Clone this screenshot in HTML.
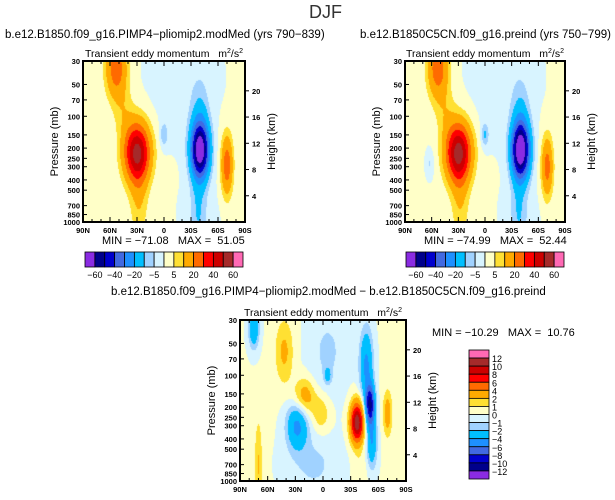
<!DOCTYPE html>
<html><head><meta charset="utf-8">
<style>
body{margin:0;background:#fff;width:615px;height:500px;overflow:hidden;position:relative;font-family:"Liberation Sans",sans-serif;}
.t{position:absolute;white-space:pre;color:#000;}
canvas{position:absolute;}
svg{position:absolute;left:0;top:0;}
</style></head>
<body>
<div class="t" style="left:309px;top:2px;font-size:18px;font-weight:300;color:#333;">DJF</div>
<div class="t" style="left:5px;top:29px;font-size:11.5px;">b.e12.B1850.f09_g16.PIMP4−pliomip2.modMed (yrs 790−839)</div>
<div class="t" style="left:360px;top:29px;font-size:11.5px;">b.e12.B1850C5CN.f09_g16.preind (yrs 750−799)</div>
<div class="t" style="left:111px;top:286px;font-size:11.5px;">b.e12.B1850.f09_g16.PIMP4−pliomip2.modMed − b.e12.B1850C5CN.f09_g16.preind</div>
<div class="t" style="left:102px;top:235px;font-size:11px;">MIN = −71.08   MAX =  51.05</div>
<div class="t" style="left:424px;top:235px;font-size:11px;">MIN = −74.99   MAX =  52.44</div>
<div class="t" style="left:432px;top:327px;font-size:11px;">MIN = −10.29   MAX =  10.76</div>
<canvas id="c1" width="162" height="161" style="left:83px;top:61px"></canvas>
<canvas id="c2" width="160" height="161" style="left:405px;top:61px"></canvas>
<canvas id="c3" width="166" height="161" style="left:240px;top:320px"></canvas>
<svg id="ov" width="615" height="500"></svg>
<script>
// Blob data (lat deg, pressure mb, amplitude m2/s2, lat width deg, log-p width)
const leftLats=[30,53,28,-40,-38,-40,0,-70,-20,-40,45];
const leftPres=[220,35,600,210,800,90,150,290,45,850,90];
const leftAmps=[52,26,9,-72,-8,-8,-10,26,-3,-3,6];
const leftSlat=[10,8,7,7,6,7,3,4.5,26,14,8];
const leftSz=[0.44,0.45,0.7,0.42,0.6,0.5,0.18,0.45,0.9,0.5,0.4];

const rightLats=[30,53,28,-40,-38,-40,0,-70,-20,62,-40,45];
const rightPres=[220,35,600,210,800,90,150,300,45,280,850,90];
const rightAmps=[53,26,9,-76,-8,-8,-11,24,-3,-6,-3,6];
const rightSlat=[10,8,7,7,6,7,3,4.5,26,3,14,8];
const rightSz=[0.44,0.45,0.7,0.42,0.6,0.5,0.18,0.45,0.9,0.2,0.5,0.4];

const diffLats=[-37,-51,-47,-53,42,20,2,28,75,-70,70,-5,-5,10,-40];
const diffPres=[280,190,80,420,60,160,230,300,36,230,700,100,60,700,800];
const diffAmps=[11.5,-10,-4.5,-4,2.2,3,1.8,-4.5,-4,2.8,2,-2.5,-1.3,-1.3,0.9];
const diffSlat=[5,3.5,5,4,7,8,7,8,4,3.5,3,2.5,15,20,5];
const diffSz=[0.3,0.3,0.55,0.4,0.5,0.28,0.3,0.35,0.3,0.35,0.7,0.12,0.7,0.5,0.3];

const topLevels=[-60,-50,-40,-30,-20,-10,-5,0,5,10,20,30,40,50,60];
const topLabels=["-60","-40","-20","-5","5","20","40","60"];
const diffLevels=[-12,-10,-8,-6,-4,-2,-1,0,1,2,4,6,8,10,12];
const diffLabels=["12","10","8","6","4","2","1","0","-1","-2","-4","-6","-8","-10","-12"];
const presTicks=[30,50,70,100,150,200,250,300,400,500,700,850,1000];
const latTicks=[90,60,30,0,-30,-60,-90];
const latNames=["90N","60N","30N","0","30S","60S","90S"];
const kmTicks=[4,8,12,16,20];

const colors=["#8a2be2","#00008b","#0000cd","#4169e1","#1e90ff","#00bfff","#a0d2ff","#d8f4ff","#ffffc8","#ffe033","#ffaa00","#ff6a00","#ff0000","#cc0000","#a52a2a","#ff69b4"];
const NS="http://www.w3.org/2000/svg";
const ov=document.getElementById('ov');
function el(tag,attrs,txt){const e=document.createElementNS(NS,tag);for(const k in attrs)e.setAttribute(k,attrs[k]);if(txt!==undefined)e.textContent=txt;ov.appendChild(e);return e;}
const LZ=Math.log(1000/30);
function yOf(p,top,h){return top+h*Math.log(p/30)/LZ;}
function xOf(lat,left,w){return left+w*(90-lat)/180;}
function field(lat,p,L,P,A,S,Z,base){let v=base;const z=Math.log(1000/p);for(let i=0;i<L.length;i++){const dz=z-Math.log(1000/P[i]);const dl=lat-L[i];v+=A[i]*Math.exp(-(dl*dl)/(2*S[i]*S[i])-(dz*dz)/(2*Z[i]*Z[i]));}return v;}
function colorIdx(v,levels){let i=0;while(i<levels.length&&v>=levels[i])i++;return i;}
function drawField(id,L,P,A,S,Z,levels,base){const c=document.getElementById(id);const ctx=c.getContext('2d');const w=c.width,h=c.height;for(let y=0;y<h;y++){const p=30*Math.exp(LZ*(y+0.5)/h);for(let x=0;x<w;x++){const lat=90-180*(x+0.5)/w;ctx.fillStyle=colors[colorIdx(field(lat,p,L,P,A,S,Z,base),levels)];ctx.fillRect(x,y,1,1);}}}
function axes(name,left,top,w,h){
  const r=el('rect',{x:left,y:top,width:w,height:h,fill:'none',stroke:'#000','stroke-width':2});
  
  const t=el('text',{x:left+w/2,y:top-4,'font-size':10.5,'text-anchor':'middle'});
  t.innerHTML='Transient eddy momentum &#160;&#160;m<tspan font-size="7" dy="-4">2</tspan><tspan dy="4">/s</tspan><tspan font-size="7" dy="-4">2</tspan>';
  
  presTicks.forEach(p=>{const y=yOf(p,top,h);el('line',{x1:left,x2:left+4,y1:y,y2:y,stroke:'#000','stroke-width':1});
    const lb=el('text',{x:left-3,y:y+3,'font-size':7.5,'font-weight':'bold','text-anchor':'end'},p);
    });
  latTicks.forEach((lat,i)=>{const x=xOf(lat,left,w);el('line',{x1:x,x2:x,y1:top+h,y2:top+h-5,stroke:'#000'});el('line',{x1:x,x2:x,y1:top,y2:top+5,stroke:'#000'});
    const lb=el('text',{x:x,y:top+h+11,'font-size':7.5,'font-weight':'bold','text-anchor':'middle'},latNames[i]);
    });
  for(let lat=80;lat>-90;lat-=10){if(lat%30===0)continue;const x=xOf(lat,left,w);el('line',{x1:x,x2:x,y1:top+h,y2:top+h-3,stroke:'#000'});el('line',{x1:x,x2:x,y1:top,y2:top+3,stroke:'#000'});}
  kmTicks.forEach(k=>{const p=1000*Math.exp(-k/7);const y=yOf(p,top,h);el('line',{x1:left+w,x2:left+w+4,y1:y,y2:y,stroke:'#000'});
    const lb=el('text',{x:left+w+7,y:y+3,'font-size':7.5,'font-weight':'bold'},k);
    });
  const yl=el('text',{transform:`translate(${left-25},${top+h/2}) rotate(-90)`,'font-size':11,'text-anchor':'middle'},'Pressure  (mb)');
  
  const yr=el('text',{transform:`translate(${left+w+30},${top+h/2}) rotate(-90)`,'font-size':11,'text-anchor':'middle'},'Height  (km)');
  
}
function hbar(name,left,top,w,h){const bw=w/16;for(let i=0;i<16;i++){const r=el('rect',{x:left+i*bw,y:top,width:bw,height:h,fill:colors[i],stroke:'#000','stroke-width':0.8});}
  topLabels.forEach((s,j)=>{const lb=el('text',{x:left+(2*j+1)*bw,y:top+h+11,'font-size':9,'text-anchor':'middle'},s.replace('-','−'));});}

drawField('c1',leftLats,leftPres,leftAmps,leftSlat,leftSz,topLevels,0.5);
drawField('c2',rightLats,rightPres,rightAmps,rightSlat,rightSz,topLevels,0.5);
drawField('c3',diffLats,diffPres,diffAmps,diffSlat,diffSz,diffLevels,0.1);
axes('left-panel',83,61,162,161);
axes('right-panel',405,61,160,161);
axes('diff-panel',240,320,166,161);
hbar('left-colorbar',85,252,158,15);
hbar('right-colorbar',406,252,158,15);
(function(){const left=469,top=350,w=20,h=129,bh=h/16;for(let i=0;i<16;i++){const r=el('rect',{x:left,y:top+i*bh,width:w,height:bh,fill:colors[15-i],stroke:'#000','stroke-width':0.8});}
 diffLabels.forEach((s,j)=>{const lb=el('text',{x:left+w+3,y:top+(j+1)*bh+4,'font-size':9},s.replace('-','−'));});})();
</script>
</body></html>
